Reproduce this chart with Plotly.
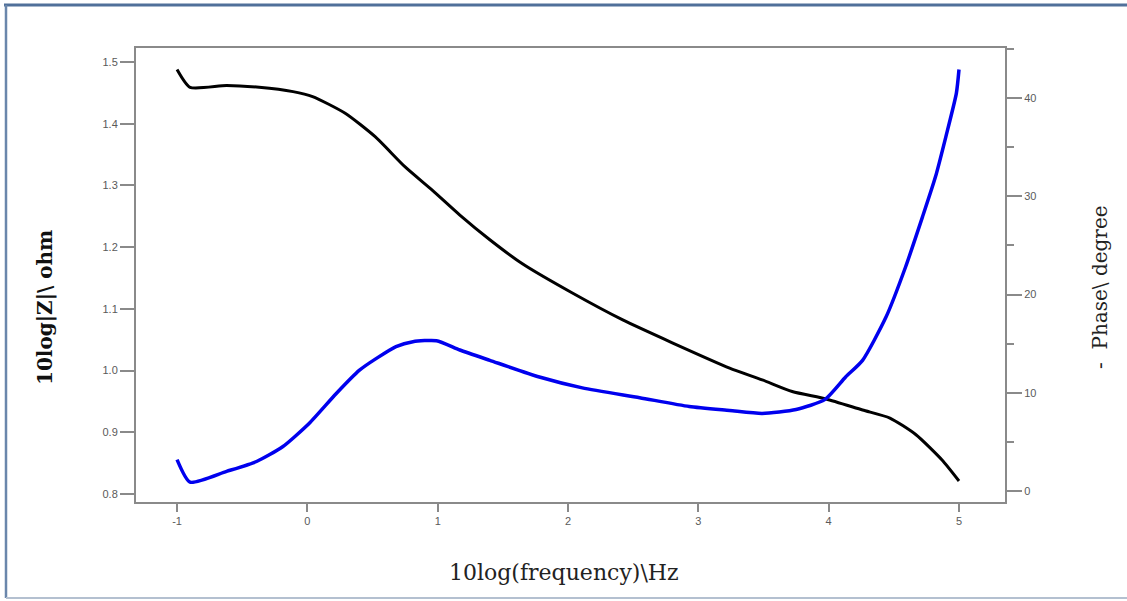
import plotly.graph_objects as go

# log10 frequency (Hz) and |Z| curve (left axis)
freq_z = [-1.0, -0.9, -0.62, -0.37, -0.11, 0.04, 0.29, 0.52, 0.75, 0.96, 1.17, 1.40,
          1.65, 2.03, 2.42, 2.80, 3.24, 3.49, 3.72, 3.98, 4.26, 4.47, 4.67, 4.87, 5.0]
logz = [1.488, 1.459, 1.462, 1.459, 1.452, 1.444, 1.417, 1.379, 1.330, 1.292, 1.252, 1.212,
        1.173, 1.126, 1.082, 1.045, 1.004, 0.985, 0.966, 0.954, 0.936, 0.923, 0.896, 0.855, 0.821]

# log10 frequency (Hz) and -phase curve (right axis)
freq_p = [-1.0, -0.9, -0.62, -0.39, -0.19, 0.015, 0.22, 0.40, 0.53, 0.68, 0.81, 0.99, 1.17,
          1.40, 1.78, 2.11, 2.55, 2.93, 3.24, 3.49, 3.75, 3.97, 4.13, 4.26, 4.44, 4.59,
          4.72, 4.82, 4.90, 4.98, 5.0]
phase = [3.2, 0.9, 2.0, 3.0, 4.5, 6.9, 9.9, 12.3, 13.5, 14.7, 15.2, 15.3, 14.35,
         13.3, 11.6, 10.5, 9.5, 8.6, 8.2, 7.9, 8.3, 9.3, 11.6, 13.3, 17.7, 22.8,
         27.9, 32.0, 36.1, 40.5, 42.9]

x_ticks = [-1, 0, 1, 2, 3, 4, 5]

W, H = 1127, 601
L, R, T, B = 136, 122, 48, 99
pw, ph = W - L - R, H - T - B

def px(x):
    return (x - L) / pw

def py(y):
    return (H - B - y) / ph

fig = go.Figure()
fig.add_trace(go.Scatter(x=freq_z, y=logz, mode="lines",
                         line=dict(color="black", width=3, shape="spline", smoothing=0.6),
                         yaxis="y", showlegend=False))
fig.add_trace(go.Scatter(x=freq_p, y=phase, mode="lines",
                         line=dict(color="#0000ee", width=3.5, shape="spline", smoothing=0.6),
                         yaxis="y2", showlegend=False))

tickfont = dict(family="Arial", size=11, color="#5a5a5a")
axcol = "#8a8a8a"

fig.update_layout(
    width=W, height=H, autosize=False,
    margin=dict(l=L, r=R, t=T, b=B),
    paper_bgcolor="white", plot_bgcolor="white",
    xaxis=dict(range=[-1.315, 5.353], tickvals=x_ticks, ticktext=[str(v) for v in x_ticks],
               showgrid=False, zeroline=False, showline=True, linecolor=axcol, linewidth=2,
               mirror=True, ticks="outside", ticklen=8, tickcolor=axcol, tickwidth=1.5,
               tickfont=tickfont),
    yaxis=dict(range=[0.787, 1.5227], dtick=0.1, tickformat=".1f", showgrid=False, zeroline=False,
               showline=True, linecolor=axcol, linewidth=2, ticks="outside", ticklen=14,
               tickcolor=axcol, tickwidth=1.5, tickfont=tickfont),
    yaxis2=dict(range=[-1.12, 45.09], dtick=10, overlaying="y", side="right", showgrid=False,
                zeroline=False, showline=True, linecolor=axcol, linewidth=2, ticks="outside",
                ticklen=15, tickcolor=axcol, tickwidth=1.5, tickfont=tickfont,
                minor=dict(dtick=5, ticks="outside", ticklen=7, tickcolor=axcol, tickwidth=1.5)),
    shapes=[
        dict(type="line", xref="paper", yref="paper", x0=px(4), x1=px(1130), y0=py(5), y1=py(5),
             line=dict(color="#50709a", width=3)),
        dict(type="line", xref="paper", yref="paper", x0=px(6), x1=px(6), y0=py(5), y1=py(598),
             line=dict(color="#6a86ab", width=2.5)),
        dict(type="line", xref="paper", yref="paper", x0=px(6), x1=px(1130), y0=py(598), y1=py(598),
             line=dict(color="#b4c0d0", width=2)),
    ],
    annotations=[
        dict(text="10log(frequency)\\Hz", xref="paper", yref="paper", x=px(564), y=py(572),
             showarrow=False, font=dict(family="DejaVu Serif", size=22, color="#222222"),
             xanchor="center", yanchor="middle"),
        dict(text="<b>10log|Z|\\ ohm</b>", xref="paper", yref="paper", x=px(45), y=py(308),
             showarrow=False, textangle=-90, font=dict(family="DejaVu Serif", size=20, color="#111111"),
             xanchor="center", yanchor="middle"),
        dict(text="-  Phase\\ degree", xref="paper", yref="paper", x=px(1100), y=py(287),
             showarrow=False, textangle=-90, font=dict(family="DejaVu Serif", size=20, color="#222222"),
             xanchor="center", yanchor="middle"),
    ],
)

fig.write_html("out.html", config={"displayModeBar": False},
               post_script="document.body.style.margin='0px';")
